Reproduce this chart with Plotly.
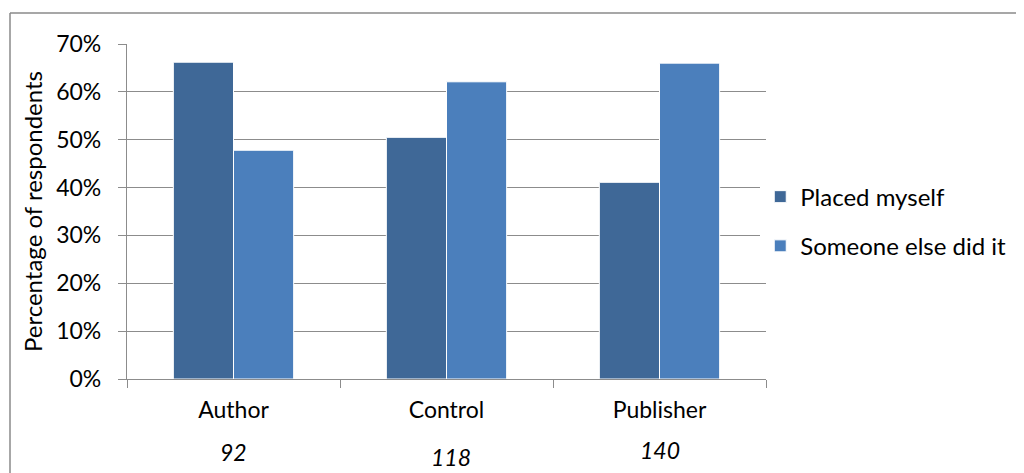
import plotly.graph_objects as go

categories = ["Author", "Control", "Publisher"]
counts = ["92", "118", "140"]
placed_myself = [0.662, 0.505, 0.411]
someone_else = [0.478, 0.621, 0.660]
y_ticks = [0, 0.1, 0.2, 0.3, 0.4, 0.5, 0.6, 0.7]

FONT = "Lato"
# page body has an 8px margin, so the figure is drawn 8px in from the top-left
W, H = 1016, 465
L, T = 119, 36
pw, ph = 639, 335
R, B = W - L - pw, H - T - ph

fig = go.Figure()
fig.add_trace(go.Bar(x=categories, y=placed_myself, name="Placed myself",
                     marker=dict(color="#3F6897", line=dict(color="white", width=1)),
                     legendgroup="a"))
fig.add_trace(go.Bar(x=categories, y=someone_else, name="Someone else did it",
                     marker=dict(color="#4B7FBC", line=dict(color="white", width=1)),
                     legendgroup="b"))

count_shift = [0, 4, 0]
count_y = [-0.218, -0.232, -0.212]
for c, n, s, yy in zip(categories, counts, count_shift, count_y):
    fig.add_annotation(x=c, y=yy, xref="x", yref="paper", text=f"<i>{n}</i>",
                       showarrow=False, xshift=s, yanchor="middle",
                       font=dict(family=FONT, size=23, color="black"))

# outer chart border (top and left visible)
bx = (2 - L) / pw
by = (H - B - 5) / ph
fig.add_shape(type="line", xref="paper", yref="paper", x0=bx, x1=1.5, y0=by, y1=by,
              line=dict(color="#8a8a8a", width=1.5))
fig.add_shape(type="line", xref="paper", yref="paper", x0=bx, x1=bx, y0=by, y1=-1,
              line=dict(color="#8a8a8a", width=1.5))

fig.update_layout(
    width=W, height=H,
    margin=dict(l=L, r=R, t=T, b=B, autoexpand=False),
    paper_bgcolor="white", plot_bgcolor="white",
    barmode="group", bargap=0.435, bargroupgap=0.0,
    font=dict(family=FONT, size=23, color="black"),
    legend=dict(x=0.991, y=0.47, xanchor="left", yanchor="middle",
                traceorder="grouped", tracegroupgap=15,
                font=dict(family=FONT, size=24), itemwidth=30),
    yaxis=dict(range=[0, 0.7], tickvals=y_ticks, tickformat=".0%",
               showgrid=True, gridcolor="#8c8c8c", gridwidth=1.3,
               showline=True, linecolor="#8c8c8c", linewidth=1.3,
               ticks="outside", ticklen=8, tickcolor="#8c8c8c", tickwidth=1.3,
               ticklabelstandoff=12, tickfont=dict(size=23),
               title=dict(text="Percentage of respondents", standoff=6,
                          font=dict(family=FONT, size=24)),
               zeroline=False),
    xaxis=dict(showline=True, linecolor="#8c8c8c", linewidth=1.3,
               ticks="outside", ticklen=8, tickcolor="#8c8c8c", tickwidth=1.3,
               tickson="boundaries", ticklabelstandoff=10, tickfont=dict(size=23)),
)

fig.write_html("out.html")
